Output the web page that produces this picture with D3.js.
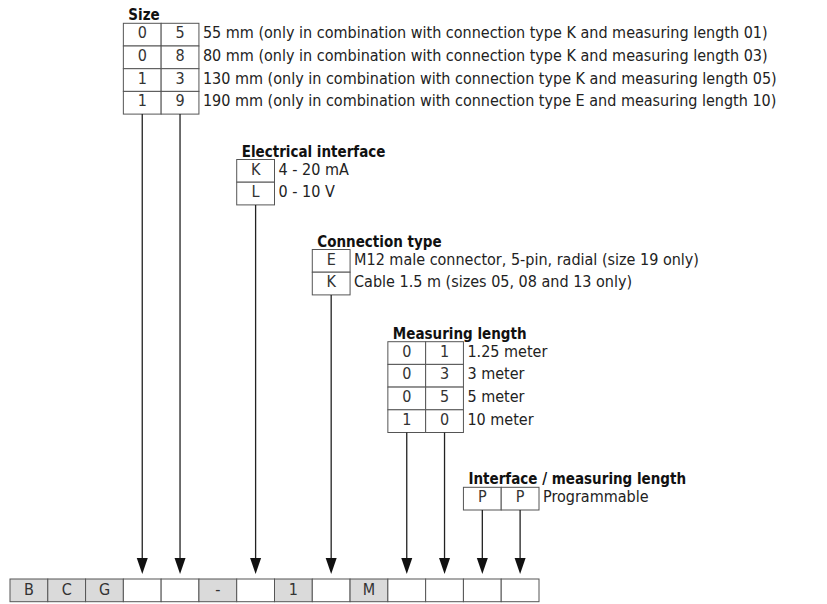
<!DOCTYPE html>
<html>
<head>
<meta charset="utf-8">
<script src="https://cdn.jsdelivr.net/npm/d3@7"></script>
<style>
  body { margin:0; background:#fff; }
  text { font-family: "DejaVu Sans Condensed", "DejaVu Sans", sans-serif; }
</style>
</head>
<body>
<svg id="chart" width="827" height="604"></svg>
<script>
// type code row at the bottom
var codeChars = ["B","C","G","","","-","","1","","M","","","",""];
var codeFixed = [true,true,true,false,false,true,false,true,false,true,false,false,false,false];

// option groups
var groupTitles = ["Size","Electrical interface","Connection type","Measuring length","Interface / measuring length"];
var groupStartCol = [3, 6, 8, 10, 12];
var groupCodes = [
  [["0","5"],["0","8"],["1","3"],["1","9"]],
  [["K"],["L"]],
  [["E"],["K"]],
  [["0","1"],["0","3"],["0","5"],["1","0"]],
  [["P","P"]]
];
var groupTexts = [
  ["55 mm (only in combination with connection type K and measuring length 01)",
   "80 mm (only in combination with connection type K and measuring length 03)",
   "130 mm (only in combination with connection type K and measuring length 05)",
   "190 mm (only in combination with connection type E and measuring length 10)"],
  ["4 - 20 mA","0 - 10 V"],
  ["M12 male connector, 5-pin, radial (size 19 only)","Cable 1.5 m (sizes 05, 08 and 13 only)"],
  ["1.25 meter","3 meter","5 meter","10 meter"],
  ["Programmable"]
];

// layout
var groupTop = [23.3, 159.5, 249.5, 341.7, 487.3];
var rowH = 22.7;
var codeTop = 579, codeH = 22.7;
var tipY = 574, headH = 16, headW = 11;
var fs = 16;

var svg = d3.select("#chart")
var x = d3.scaleLinear().domain([0, codeChars.length]).range([10, 539]);
var cw = x(1) - x(0);

// bottom code row
var code = svg.append("g")
code.selectAll("rect").data(codeChars).enter().append("rect")
  .attr("x", function(d,i){return x(i)})
  .attr("y", codeTop)
  .attr("width", cw).attr("height", codeH)
  .attr("fill", function(d,i){return codeFixed[i] ? "#dadada" : "#fff"})
  .attr("stroke", "#555").attr("stroke-width", 1);
code.selectAll("text").data(codeChars).enter().append("text")
  .attr("x", function(d,i){return x(i)+cw/2})
  .attr("y", codeTop + 16)
  .attr("text-anchor","middle")
  .attr("font-size", fs).attr("fill","#333")
  .text(function(d){return d});

groupTitles.forEach(function(title, g){
  var top = groupTop[g];
  var c0 = groupStartCol[g];
  var rows = groupCodes[g];
  var nCols = rows[0].length;
  var gEl = svg.append("g");

  gEl.append("text")
    .attr("x", x(c0) + 5).attr("y", top - 3)
    .attr("font-size", 15).attr("font-weight","bold").attr("fill","#111")
    .text(title);

  rows.forEach(function(r, ri){
    var y = top + ri*rowH;
    r.forEach(function(ch, ci){
      gEl.append("rect")
        .attr("x", x(c0+ci)).attr("y", y)
        .attr("width", cw).attr("height", rowH)
        .attr("fill","#fff").attr("stroke","#555").attr("stroke-width",1);
      gEl.append("text")
        .attr("x", x(c0+ci)+cw/2).attr("y", y + 15)
        .attr("text-anchor","middle").attr("font-size",fs).attr("fill","#333")
        .text(ch);
    });
    gEl.append("text")
      .attr("x", x(c0+nCols) + 4).attr("y", y + 15)
      .attr("font-size",fs).attr("fill","#222")
      .text(groupTexts[g][ri]);
  });

  // leader lines + arrow heads
  var bottom = top + rows.length*rowH;
  for (var ci = 0; ci < nCols; ci++){
    var cx = x(c0+ci) + cw/2;
    gEl.append("line")
      .attr("x1", cx).attr("x2", cx)
      .attr("y1", bottom).attr("y2", tipY - headH + 1)
      .attr("stroke","#222").attr("stroke-width",1.3);
    gEl.append("path")
      .attr("d", "M"+(cx-headW/2)+","+(tipY-headH)+"L"+(cx+headW/2)+","+(tipY-headH)+"L"+cx+","+tipY+"Z")
      .attr("fill","#111");
  }
});
</script>
</body>
</html>
